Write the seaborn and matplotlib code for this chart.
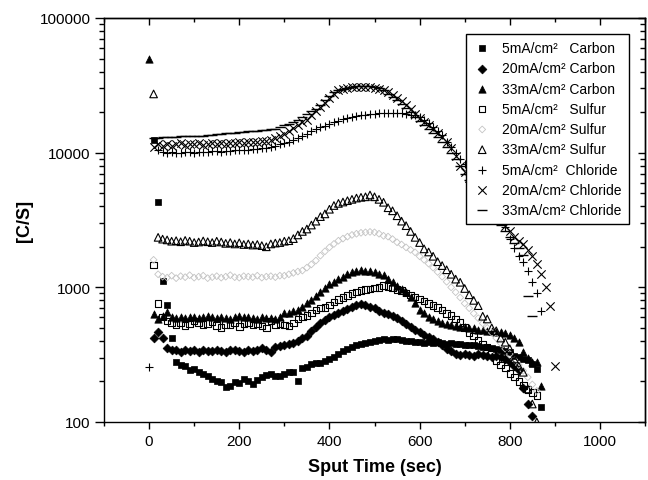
import numpy as np
import pandas as pd
import matplotlib
matplotlib.use('Agg')
import matplotlib.pyplot as plt
from matplotlib import ticker
import seaborn as sns

sns.set_style("ticks")
plt.rcParams['font.family'] = ['Liberation Sans', 'DejaVu Sans']
plt.rcParams['axes.linewidth'] = 1.0
for key in ['text.color', 'axes.labelcolor', 'xtick.color', 'ytick.color', 'axes.edgecolor']:
    plt.rcParams[key] = 'black'

# ================= data =================
# sputter time grid, seconds
TIME = [0, 10, 20, 30, 40, 50, 60, 70, 80, 90,
        100, 110, 120, 130, 140, 150, 160, 170, 180, 190,
        200, 210, 220, 230, 240, 250, 260, 270, 280, 290,
        300, 310, 320, 330, 340, 350, 360, 370, 380, 390,
        400, 410, 420, 430, 440, 450, 460, 470, 480, 490,
        500, 510, 520, 530, 540, 550, 560, 570, 580, 590,
        600, 610, 620, 630, 640, 650, 660, 670, 680, 690,
        700, 710, 720, 730, 740, 750, 760, 770, 780, 790,
        800, 810, 820, 830, 840, 850, 860, 870, 880, 890,
        900]

carbon_5 = [None, 12400, 4330, 1120, 740, 420, 277, 265, 259, 245,
            248, 234, 228, 221, 208, 200, 197, 181, 186, 197,
            194, 208, 200, 191, 205, 215, 222, 227, 218, 221,
            228, 234, 236, 203, 250, 255, 270, 275, 272, 283,
            295, 305, 318, 335, 350, 362, 370, 378, 386, 392,
            400, 405, 412, 408, 415, 412, 405, 400, 398, 396,
            391, 388, 392, 385, 391, 385, 382, 386, 380, 378,
            376, 372, 370, 369, 362, 358, 352, 350, 345, 335,
            330, 311, 305, 296, 290, 270, 248, 129, None, None,
            None]

carbon_20 = [None, 419, 463, 419, 355, 345, 340, 333, 345, 338,
             340, 332, 345, 338, 335, 342, 335, 330, 340, 345,
             338, 332, 340, 335, 345, 352, 340, 330, 360, 365,
             372, 380, 385, 400, 420, 438, 470, 505, 540, 575,
             600, 625, 650, 670, 690, 715, 740, 752, 735, 715,
             700, 671, 650, 630, 617, 590, 560, 535, 510, 485,
             463, 445, 428, 413, 395, 372, 348, 335, 322, 314,
             318, 312, 311, 320, 315, 311, 305, 308, 302, 295,
             280, 262, 245, 180, 136, 111, None, None, None, None,
             None]

carbon_33 = [49600, 634, 582, 610, 653, 600, 590, 600, 595, 605,
             598, 590, 600, 610, 598, 590, 600, 595, 585, 600,
             610, 598, 600, 590, 585, 600, 595, 590, 585, 600,
             640, 650, 665, 680, 720, 760, 800, 860, 930, 990,
             1050, 1100, 1150, 1200, 1250, 1300, 1332, 1345, 1330, 1332,
             1300, 1256, 1230, 1150, 1090, 1030, 970, 918, 850, 760,
             680, 640, 600, 582, 560, 545, 535, 525, 515, 510,
             505, 500, 495, 485, 478, 476, 470, 466, 463, 455,
             440, 420, 391, 330, 300, 280, 277, 186, None, None,
             None]

sulfur_5 = [None, 1465, 761, 600, 560, 543, 530, 550, 520, 535,
            560, 545, 530, 540, 555, 520, 505, 530, 525, 545,
            510, 540, 550, 525, 535, 515, 500, 560, 530, 540,
            525, 515, 545, 580, 600, 620, 645, 680, 700, 711,
            740, 775, 810, 844, 870, 900, 920, 945, 960, 975,
            990, 1000, 1029, 1010, 985, 960, 945, 910, 880, 845,
            818, 790, 760, 730, 711, 680, 640, 617, 580, 550,
            505, 463, 435, 402, 380, 359, 320, 286, 265, 251,
            230, 215, 200, 186, 175, 165, 157, None, None, None,
            None]

sulfur_20 = [None, 1600, 1250, 1200, 1180, 1220, 1170, 1210, 1190, 1230,
             1180, 1200, 1220, 1170, 1190, 1210, 1180, 1200, 1230, 1190,
             1180, 1210, 1200, 1190, 1220, 1180, 1200, 1210, 1190, 1220,
             1220, 1250, 1280, 1310, 1332, 1400, 1480, 1580, 1720, 1850,
             1980, 2100, 2220, 2300, 2380, 2450, 2500, 2540, 2560, 2580,
             2560, 2500, 2414, 2380, 2280, 2160, 2080, 1980, 1900, 1820,
             1700, 1600, 1500, 1400, 1300, 1200, 1100, 1000, 920, 840,
             760, 700, 640, 590, 540, 500, 460, 420, 385, 350,
             320, 290, 265, 240, 215, 190, 170, None, None, None,
             None]

sulfur_33 = [None, 27300, 2350, 2280, 2250, 2200, 2220, 2180, 2230, 2200,
             2150, 2170, 2210, 2180, 2150, 2200, 2170, 2120, 2150, 2100,
             2140, 2080, 2100, 2060, 2080, 2040, 2000, 2100, 2130, 2150,
             2200, 2220, 2300, 2450, 2600, 2710, 2900, 3100, 3350, 3510,
             3800, 4050, 4200, 4300, 4400, 4500, 4600, 4660, 4700, 4850,
             4700, 4500, 4280, 3900, 3700, 3400, 3100, 2870, 2600, 2350,
             2150, 1930, 1830, 1700, 1550, 1450, 1350, 1250, 1150, 1090,
             980, 880, 800, 731, 610, 582, 500, 476, 420, 391,
             350, 294, 260, 234, 176, 136, 100, None, None, None,
             None]

chloride_5 = [255, None, 10400, 10100, 10000, 10050, 9950, 10000, 10100, 10050,
              10000, 10150, 10200, 10150, 10250, 10300, 10200, 10350, 10300, 10400,
              10450, 10500, 10550, 10600, 10650, 10800, 10900, 11100, 11300, 11500,
              11800, 11940, 12400, 12900, 13400, 13800, 14400, 15000, 15500, 15900,
              16400, 16900, 17300, 17780, 18100, 18400, 18700, 19000, 19100, 19300,
              19500, 19600, 19700, 19800, 19800, 19700, 19600, 19400, 19200, 19000,
              18500, 17500, 16500, 15500, 14500, 13500, 12000, 11000, 10000, 9000,
              8200, 7400, 6700, 6000, 5400, 4800, 4300, 3800, 3300, 2800,
              2300, 1950, 1700, 1535, 1332, 1090, 900, 671, None, None,
              None]

chloride_20 = [None, 11000, 11500, 11200, 11600, 11300, 11500, 11700, 11400, 11600,
               11500, 11700, 11400, 11600, 11800, 11500, 11700, 11600, 11800, 11700,
               11900, 11800, 12000, 12100, 12000, 12200, 12300, 12500, 12800, 13200,
               13800, 14500, 15300, 16000, 16800, 17500, 19000, 20500, 22000, 23500,
               25500, 27500, 29000, 29700, 30200, 30500, 30500, 30700, 30600, 30500,
               30200, 29800, 29000, 28000, 27000, 25500, 24000, 22500, 21000, 19500,
               18200, 17000, 16000, 15000, 14000, 13000, 12000, 10800, 9500, 8000,
               7200, 6500, 5900, 5300, 4800, 4300, 3900, 3500, 3150, 2870,
               2600, 2350, 2200, 2100, 1900, 1700, 1490, 1250, 1000, 731,
               262]

chloride_33 = [None, 12800, 12900, 13000, 13000, 13100, 13100, 13200, 13200, 13300,
               13300, 13400, 13400, 13500, 13600, 13700, 13770, 13900, 14000, 14100,
               14200, 14300, 14400, 14500, 14600, 14700, 14800, 14900, 15000, 15500,
               16000, 16400, 16800, 17500, 18500, 19500, 20500, 21100, 22500, 24500,
               26500, 28000, 29000, 29700, 30300, 30800, 31200, 31400, 31400, 31200,
               30800, 30000, 29000, 27500, 26000, 24500, 23000, 21500, 20000, 18500,
               17200, 16000, 15000, 14000, 13000, 12000, 11000, 10000, 9000, 8000,
               7000, 6300, 5600, 5000, 4500, 4000, 3600, 3200, 2900, 2600,
               2350, 2150, 1950, 1750, 867, 617, None, None, None, None,
               None]

LABELS = ['5mA/cm\u00b2   Carbon', '20mA/cm\u00b2 Carbon', '33mA/cm\u00b2 Carbon',
          '5mA/cm\u00b2   Sulfur', '20mA/cm\u00b2 Sulfur', '33mA/cm\u00b2 Sulfur',
          '5mA/cm\u00b2  Chloride', '20mA/cm\u00b2 Chloride', '33mA/cm\u00b2 Chloride']
VALUES = [carbon_5, carbon_20, carbon_33, sulfur_5, sulfur_20, sulfur_33,
          chloride_5, chloride_20, chloride_33]

# marker style per series
STYLES = [
    dict(marker='s', s=20, color='k', edgecolor='k', linewidth=0.5),
    dict(marker='D', s=20, color='k', edgecolor='k', linewidth=0.5),
    dict(marker='^', s=28, color='k', edgecolor='k', linewidth=0.5),
    dict(marker='s', s=22, facecolors='none', edgecolor='k', linewidth=0.8),
    dict(marker='D', s=12, facecolors='none', edgecolor='#c4c4c4', linewidth=0.6),
    dict(marker='^', s=30, facecolors='none', edgecolor='k', linewidth=0.8),
    dict(marker='+', s=34, color='k', linewidth=0.8),
    dict(marker='x', s=36, color='k', linewidth=0.8),
    dict(marker='_', s=44, color='k', linewidth=1.0),
]

rows = []
for label, vals in zip(LABELS, VALUES):
    assert len(vals) == len(TIME), label
    for t, v in zip(TIME, vals):
        if v is not None:
            rows.append((label, t, v))
df = pd.DataFrame(rows, columns=['series', 'time', 'cps'])

# ================= plot =================
fig = plt.figure(figsize=(6.48, 4.81), dpi=100)
ax = fig.add_axes([0.1605, 0.1206, 0.8349, 0.8399])

for label, kw in zip(LABELS, STYLES):
    d = df[df['series'] == label]
    sns.scatterplot(data=d, x='time', y='cps', ax=ax, label=label, **kw)

ax.set_yscale('log')
ax.set_xlim(-100, 1100)
ax.set_ylim(100, 100000)
ax.xaxis.set_major_locator(ticker.MultipleLocator(200))
ax.xaxis.set_minor_locator(ticker.MultipleLocator(100))
ax.yaxis.set_major_formatter(ticker.FuncFormatter(lambda v, p: f"{v:.0f}"))
ax.yaxis.set_minor_formatter(ticker.NullFormatter())
ax.tick_params(which='both', direction='out', top=False, right=False, labelsize=11, width=1.0)
ax.tick_params(axis='x', which='major', length=5)
ax.tick_params(axis='x', which='minor', length=3)
ax.tick_params(axis='y', which='major', length=6.5, pad=3)
ax.tick_params(axis='y', which='minor', length=3.5)

# mirrored ticks on top / right point inwards
top = ax.secondary_xaxis('top')
top.xaxis.set_major_locator(ticker.MultipleLocator(200))
top.xaxis.set_minor_locator(ticker.MultipleLocator(100))
top.tick_params(which='both', direction='in', labeltop=False, width=1.0)
top.tick_params(which='major', length=5)
top.tick_params(which='minor', length=3)
right = ax.secondary_yaxis('right')
right.tick_params(which='both', direction='in', labelright=False, width=1.0)
right.tick_params(which='major', length=5)
right.tick_params(which='minor', length=3.5)
right.yaxis.set_minor_formatter(ticker.NullFormatter())

ax.set_xlabel('Sput Time (sec)', fontsize=13, fontweight='bold', labelpad=7)
ax.set_ylabel('[C/S]', fontsize=13, fontweight='bold', labelpad=5)

leg = ax.legend(loc='upper right', bbox_to_anchor=(0.970, 0.960), fontsize=10,
                frameon=True, fancybox=False, framealpha=1, edgecolor='black',
                borderpad=0.5, handlelength=1.3, handletextpad=0.8, labelspacing=0.45,
                borderaxespad=0)
leg.get_frame().set_linewidth(1.0)

plt.savefig('out.png', dpi=100)
